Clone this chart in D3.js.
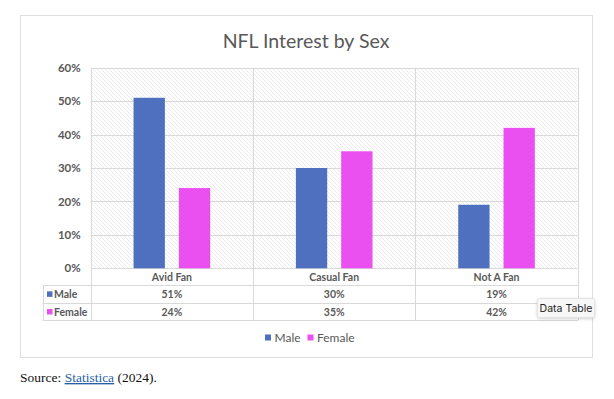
<!DOCTYPE html>
<html><head><meta charset="utf-8">
<script src="https://cdn.jsdelivr.net/npm/d3@7"></script>
<style>
body{margin:0;background:#fff;}
svg{display:block;}
</style></head>
<body>
<svg id="chart" width="614" height="399"></svg>
<script>
const categories = ["Avid Fan", "Casual Fan", "Not A Fan"];
const seriesNames = ["Male", "Female"];
const maleValues = [0.51, 0.30, 0.19];
const femaleValues = [0.24, 0.35, 0.42];
const yTicks = [0, 0.1, 0.2, 0.3, 0.4, 0.5, 0.6];
const colors = ["#4f70be", "#ea50f0"];
const title = "NFL Interest by Sex";

const svg = d3.select("#chart");
const grid = "#d9d9d9";
const textCol = "#595959";
const fontF = "Lato, 'Open Sans', sans-serif";

// pattern
const defs = svg.append("defs");
const pat = defs.append("pattern").attr("id","hatch").attr("patternUnits","userSpaceOnUse")
  .attr("width",4).attr("height",4);
pat.append("rect").attr("width",4).attr("height",4).attr("fill","#fff");
pat.append("path").attr("d","M-1,-1 L5,5 M-1,3 L1,5 M3,-1 L5,1").attr("stroke","#e6e6e6").attr("stroke-width",0.8);

// outer box
svg.append("rect").attr("x",20.5).attr("y",15.5).attr("width",572).attr("height",342)
  .attr("fill","#fff").attr("stroke","#dedede");

svg.append("text").attr("x",306).attr("y",48).attr("text-anchor","middle")
  .attr("font-family",fontF).attr("font-size",19.5).attr("fill",textCol).text(title);

const x0 = d3.scaleBand().domain(categories).range([90.7,577.7]).paddingInner(0).paddingOuter(0);
const y = d3.scaleLinear().domain([0,0.6]).range([268.3,67.7]);

// plot bg
svg.append("rect").attr("x",x0.range()[0]).attr("y",y(0.6)).attr("width",x0.range()[1]-x0.range()[0])
  .attr("height",y(0)-y(0.6)).attr("fill","url(#hatch)");

// horizontal grid
svg.append("g").selectAll("line").data(yTicks).join("line")
  .attr("x1",x0.range()[0]).attr("x2",x0.range()[1])
  .attr("y1",d=>Math.round(y(d))+0.5).attr("y2",d=>Math.round(y(d))+0.5)
  .attr("stroke",grid).attr("stroke-width",1);

// y axis labels
const yAxis = d3.axisLeft(y).tickValues(yTicks).tickFormat(d3.format(".0%")).tickSize(0).tickPadding(10);
const ya = svg.append("g").attr("transform",`translate(${x0.range()[0]},0)`).call(yAxis);
ya.select(".domain").remove();
ya.selectAll("text").attr("font-family",fontF).attr("font-size",11.5).attr("font-weight","bold").attr("fill",textCol);

// table rows
const rowY = [268.3, 285, 302.7, 320.3];
const tableLeft = 42.7;
const vx = [x0.range()[0], ...categories.map(c=>x0(c)+x0.bandwidth())];
svg.append("g").selectAll("line").data(vx).join("line")
  .attr("x1",d=>Math.round(d)+0.5).attr("x2",d=>Math.round(d)+0.5)
  .attr("y1",y(0.6)).attr("y2",rowY[3]).attr("stroke",grid);
svg.append("line").attr("x1",Math.round(tableLeft)+0.5).attr("x2",Math.round(tableLeft)+0.5)
  .attr("y1",rowY[1]).attr("y2",rowY[3]).attr("stroke",grid);
svg.append("g").selectAll("line").data(rowY.slice(1)).join("line")
  .attr("x1",tableLeft).attr("x2",x0.range()[1])
  .attr("y1",d=>Math.round(d)+0.5).attr("y2",d=>Math.round(d)+0.5).attr("stroke",grid);

// bars
const data = categories.map((c,i)=>({cat:c, vals:[maleValues[i], femaleValues[i]]}));
const bw = 31.3, gap = 14;
const g = svg.append("g");
data.forEach(d=>{
  const cx = x0(d.cat) + x0.bandwidth()/2;
  const start = cx - (2*bw+gap)/2;
  d.vals.forEach((v,j)=>{
    g.append("rect").attr("x",start + j*(bw+gap)).attr("width",bw)
      .attr("y",y(v)).attr("height",y(0)-y(v)).attr("fill",colors[j]);
  });
});

// category labels
svg.append("g").selectAll("text").data(categories).join("text")
  .attr("x",d=>x0(d)+x0.bandwidth()/2).attr("y",(rowY[0]+rowY[1])/2+4)
  .attr("text-anchor","middle").attr("font-family",fontF).attr("font-size",10.5)
  .attr("font-weight","bold").attr("fill",textCol).text(d=>d);

// value rows
[maleValues, femaleValues].forEach((vals,j)=>{
  const cy = (rowY[j+1]+rowY[j+2])/2;
  svg.append("g").selectAll("text").data(vals).join("text")
    .attr("x",(d,i)=>x0(categories[i])+x0.bandwidth()/2).attr("y",cy+4)
    .attr("text-anchor","middle").attr("font-family",fontF).attr("font-size",10.5)
    .attr("font-weight","bold").attr("fill",textCol).text(d=>d3.format(".0%")(d));
  svg.append("rect").attr("x",47).attr("y",cy-2.5).attr("width",5.5).attr("height",5.5).attr("fill",colors[j]);
  svg.append("text").attr("x",54).attr("y",cy+4).attr("font-family",fontF).attr("font-size",10.5)
    .attr("font-weight","bold").attr("fill",textCol).text(seriesNames[j]);
});

// legend
const legX = [265, 307.5];
seriesNames.forEach((s,j)=>{
  svg.append("rect").attr("x",legX[j]).attr("y",334.5).attr("width",6).attr("height",6).attr("fill",colors[j]);
  svg.append("text").attr("x",legX[j]+9.5).attr("y",342).attr("font-family",fontF).attr("font-size",12)
    .attr("fill",textCol).text(s);
});

// tooltip
const tt = svg.append("g");
defs.append("filter").attr("id","sh").attr("x","-20%").attr("y","-30%").attr("width","140%").attr("height","170%")
  .append("feDropShadow").attr("dx",0).attr("dy",1).attr("stdDeviation",1.5).attr("flood-color","#000").attr("flood-opacity",0.18);
tt.append("rect").attr("x",537.5).attr("y",298.5).attr("width",57).attr("height",19).attr("rx",2)
  .attr("fill","#f7f7f7").attr("stroke","#e3e3e3").attr("filter","url(#sh)");
tt.append("text").attr("x",566).attr("y",312).attr("text-anchor","middle")
  .attr("font-family","Inter, 'Noto Sans', sans-serif").attr("font-size",10.5).attr("fill","#222").text("Data Table");

// source
const src = svg.append("text").attr("x",20).attr("y",382).attr("font-family","'Liberation Serif', 'Times New Roman', serif")
  .attr("font-size",13.5).attr("fill","#111");
src.append("tspan").text("Source: ");
src.append("tspan").attr("fill","#2a5fa8").attr("text-decoration","underline").text("Statistica");
src.append("tspan").text(" (2024).");
</script>
</body></html>
